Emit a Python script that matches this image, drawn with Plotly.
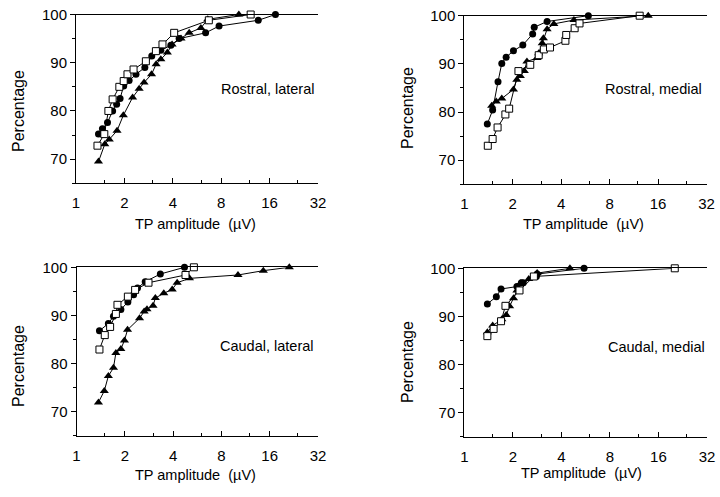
import math
import plotly.graph_objects as go

W, H = 720, 497

# ---------------- data ----------------
# Rostral, lateral
rl_circle_x = [1.38, 1.46, 1.57, 1.69, 1.79, 1.88, 1.98, 2.14, 2.36, 2.68, 2.96, 3.37, 3.89, 4.38, 6.4, 7.76, 13.6, 17.4]
rl_circle_y = [75.2, 76.3, 77.6, 80.0, 81.4, 82.6, 85.2, 86.3, 87.6, 89.0, 91.4, 92.6, 93.6, 95.0, 96.2, 97.6, 98.8, 100]
rl_square_x = [1.36, 1.50, 1.59, 1.69, 1.86, 1.98, 2.09, 2.28, 2.72, 3.14, 3.45, 4.08, 6.7, 12.2]
rl_square_y = [72.8, 75.2, 80.0, 82.4, 85.0, 86.2, 87.6, 88.6, 90.3, 92.4, 93.8, 96.2, 98.8, 100]
rl_tri_x = [1.38, 1.51, 1.61, 1.80, 1.97, 2.25, 2.47, 2.65, 2.95, 3.15, 3.37, 3.70, 3.96, 4.50, 5.06, 5.98, 6.6, 10.3]
rl_tri_y = [69.5, 73.1, 74.1, 75.9, 79.1, 82.8, 84.6, 85.9, 87.6, 89.7, 90.7, 92.1, 93.8, 95.0, 96.2, 97.2, 99.0, 100]

# Rostral, medial
rm_circle_x = [1.39, 1.50, 1.62, 1.71, 1.82, 2.02, 2.31, 2.66, 2.72, 3.27, 5.9]
rm_circle_y = [77.5, 80.4, 86.3, 90.1, 91.4, 92.7, 93.9, 96.2, 97.6, 98.8, 100]
rm_square_x = [1.40, 1.50, 1.61, 1.80, 1.90, 2.17, 2.57, 2.90, 3.12, 3.41, 4.25, 4.30, 4.85, 5.2, 12.3]
rm_square_y = [73.0, 74.4, 76.8, 79.5, 80.7, 88.5, 89.8, 91.8, 93.0, 93.4, 94.8, 96.0, 97.4, 98.4, 100]
rm_tri_x = [1.48, 1.58, 1.71, 2.02, 2.12, 2.23, 2.36, 2.45, 2.83, 2.90, 3.05, 3.10, 3.27, 3.6, 4.8, 13.9]
rm_tri_y = [81.3, 82.2, 82.8, 84.7, 86.7, 87.5, 88.5, 90.5, 91.2, 92.2, 94.3, 95.3, 97.2, 98.3, 99.1, 100]

# Caudal, lateral
cl_circle_x = [1.39, 1.58, 1.70, 1.89, 2.09, 2.27, 2.40, 2.68, 3.33, 4.71]
cl_circle_y = [86.8, 88.3, 89.8, 91.2, 92.8, 94.3, 95.7, 97.0, 98.6, 100]
cl_square_x = [1.39, 1.50, 1.62, 1.76, 1.80, 2.09, 2.32, 2.81, 4.78, 5.39]
cl_square_y = [82.9, 85.9, 87.6, 90.3, 92.2, 93.9, 95.3, 96.8, 98.4, 100]
cl_tri_x = [1.37, 1.49, 1.58, 1.70, 1.76, 1.89, 1.99, 2.08, 2.47, 2.64, 2.75, 3.0, 3.1, 3.5, 3.95, 4.24, 5.06, 10.15, 14.6, 21.2]
cl_tri_y = [71.9, 74.3, 77.4, 79.1, 82.2, 83.0, 84.8, 87.0, 89.4, 90.8, 91.3, 92.0, 93.6, 94.6, 95.4, 96.8, 97.7, 98.4, 99.3, 100]

# Caudal, medial
cm_circle_x = [1.39, 1.58, 1.69, 2.12, 2.26, 2.32, 2.80, 2.83, 5.53]
cm_circle_y = [92.6, 94.1, 95.7, 96.2, 97.0, 97.0, 98.3, 98.8, 100]
cm_square_x = [1.39, 1.52, 1.69, 1.80, 2.20, 2.70, 20.2]
cm_square_y = [85.9, 87.4, 89.0, 92.2, 95.4, 98.3, 100]
cm_tri_x = [1.39, 1.50, 1.71, 1.82, 1.91, 2.02, 2.12, 2.23, 2.51, 2.83, 4.52]
cm_tri_y = [86.7, 88.1, 89.4, 90.3, 92.1, 93.8, 95.4, 96.9, 97.8, 99.0, 100]

panel_labels = ["Rostral, lateral", "Rostral, medial", "Caudal, lateral", "Caudal, medial"]
x_tick_vals = [1, 2, 4, 8, 16, 32]
x_tick_text = ["1", "2", "4", "8", "16", "32"]
x_minor_vals = [1.5, 3, 6, 12, 24]
y_tick_vals = [70, 80, 90, 100]
y_minor_vals = [65, 75, 85, 95]
x_title = "TP amplitude  (\u00b5V)"
y_title = "Percentage"

panels = [
    (rl_circle_x, rl_circle_y, rl_square_x, rl_square_y, rl_tri_x, rl_tri_y),
    (rm_circle_x, rm_circle_y, rm_square_x, rm_square_y, rm_tri_x, rm_tri_y),
    (cl_circle_x, cl_circle_y, cl_square_x, cl_square_y, cl_tri_x, cl_tri_y),
    (cm_circle_x, cm_circle_y, cm_square_x, cm_square_y, cm_tri_x, cm_tri_y),
]

# ---------------- layout geometry (pixels) ----------------
# (x0, x1, ytop, ybottom)
boxes = [
    (76.0, 318.0, 14.5, 183.3),
    (464.3, 706.5, 15.7, 184.3),
    (76.5, 318.0, 267.3, 435.6),
    (464.3, 707.0, 268.3, 436.7),
]
ytitle_pos = [(18, 111), (408, 108), (18, 366), (407, 362)]
xtitle_pos = [(196, 224), (583, 224), (196, 475), (581, 473)]
label_pos = [(316, 89), (704, 89), (316, 346), (707, 347)]

FONT = "Liberation Sans, Arial, Helvetica, sans-serif"

def px(x):
    return x / W

def py(y):
    return 1 - y / H

fig = go.Figure()
annotations = []
layout = {}

for i, (cx, cy, sx, sy, tx, ty) in enumerate(panels):
    n = "" if i == 0 else str(i + 1)
    xa, ya = "x" + n, "y" + n
    x0, x1, yt, yb = boxes[i]
    common = dict(xaxis=xa, yaxis=ya, mode="lines+markers", cliponaxis=False,
                  showlegend=False, line=dict(color="black", width=1))
    fig.add_trace(go.Scatter(x=tx, y=ty, marker=dict(symbol="triangle-up", size=8, color="black"), **common))
    fig.add_trace(go.Scatter(x=cx, y=cy, marker=dict(symbol="circle", size=7, color="black"), **common))
    fig.add_trace(go.Scatter(x=sx, y=sy, marker=dict(symbol="square", size=7, color="white",
                                                     line=dict(color="black", width=1)), **common))
    layout["xaxis" + n] = dict(
        domain=[px(x0), px(x1)], anchor=ya, type="log", automargin=False,
        range=[0, math.log10(32)], showgrid=False, zeroline=False,
        showline=True, linecolor="black", linewidth=1, mirror=True,
        tickmode="array", tickvals=x_tick_vals, ticktext=x_tick_text,
        ticks="inside", ticklen=5, tickwidth=1, tickcolor="black",
        ticklabelstandoff=6,
        minor=dict(tickmode="array", tickvals=x_minor_vals, ticks="inside",
                   ticklen=3, tickwidth=1, tickcolor="black", showgrid=False),
        tickfont=dict(family=FONT, size=15, color="black"),
    )
    layout["yaxis" + n] = dict(
        domain=[py(yb), py(yt)], anchor=xa, range=[65, 100], automargin=False,
        showgrid=False, zeroline=False, showline=True, linecolor="black", linewidth=1,
        tickmode="array", tickvals=y_tick_vals,
        ticks="outside", ticklen=5, tickwidth=1, tickcolor="black",
        minor=dict(tickmode="array", tickvals=y_minor_vals, ticks="outside",
                   ticklen=3, tickwidth=1, tickcolor="black", showgrid=False),
        tickfont=dict(family=FONT, size=15, color="black"),
    )
    annotations.append(dict(x=px(ytitle_pos[i][0]), y=py(ytitle_pos[i][1]), xref="paper", yref="paper",
                            text=y_title, textangle=-90, showarrow=False,
                            xanchor="center", yanchor="middle",
                            font=dict(family=FONT, size=16, color="black")))
    annotations.append(dict(x=px(xtitle_pos[i][0]), y=py(xtitle_pos[i][1]), xref="paper", yref="paper",
                            text=x_title, showarrow=False, xanchor="center", yanchor="middle",
                            font=dict(family=FONT, size=14.5, color="black")))
    annotations.append(dict(x=px(label_pos[i][0]), y=py(label_pos[i][1]), xref="paper", yref="paper",
                            text=panel_labels[i], showarrow=False, xanchor="right", yanchor="middle",
                            font=dict(family=FONT, size=14.5, color="black")))

fig.update_layout(
    template="none",
    width=W, height=H,
    margin=dict(l=0, r=0, t=0, b=0, pad=0, autoexpand=False),
    paper_bgcolor="white", plot_bgcolor="white",
    annotations=annotations,
    **layout,
)

fig.write_html("out.html", config={"displayModeBar": False},
               post_script="document.body.style.margin='0';document.body.style.padding='0';")
